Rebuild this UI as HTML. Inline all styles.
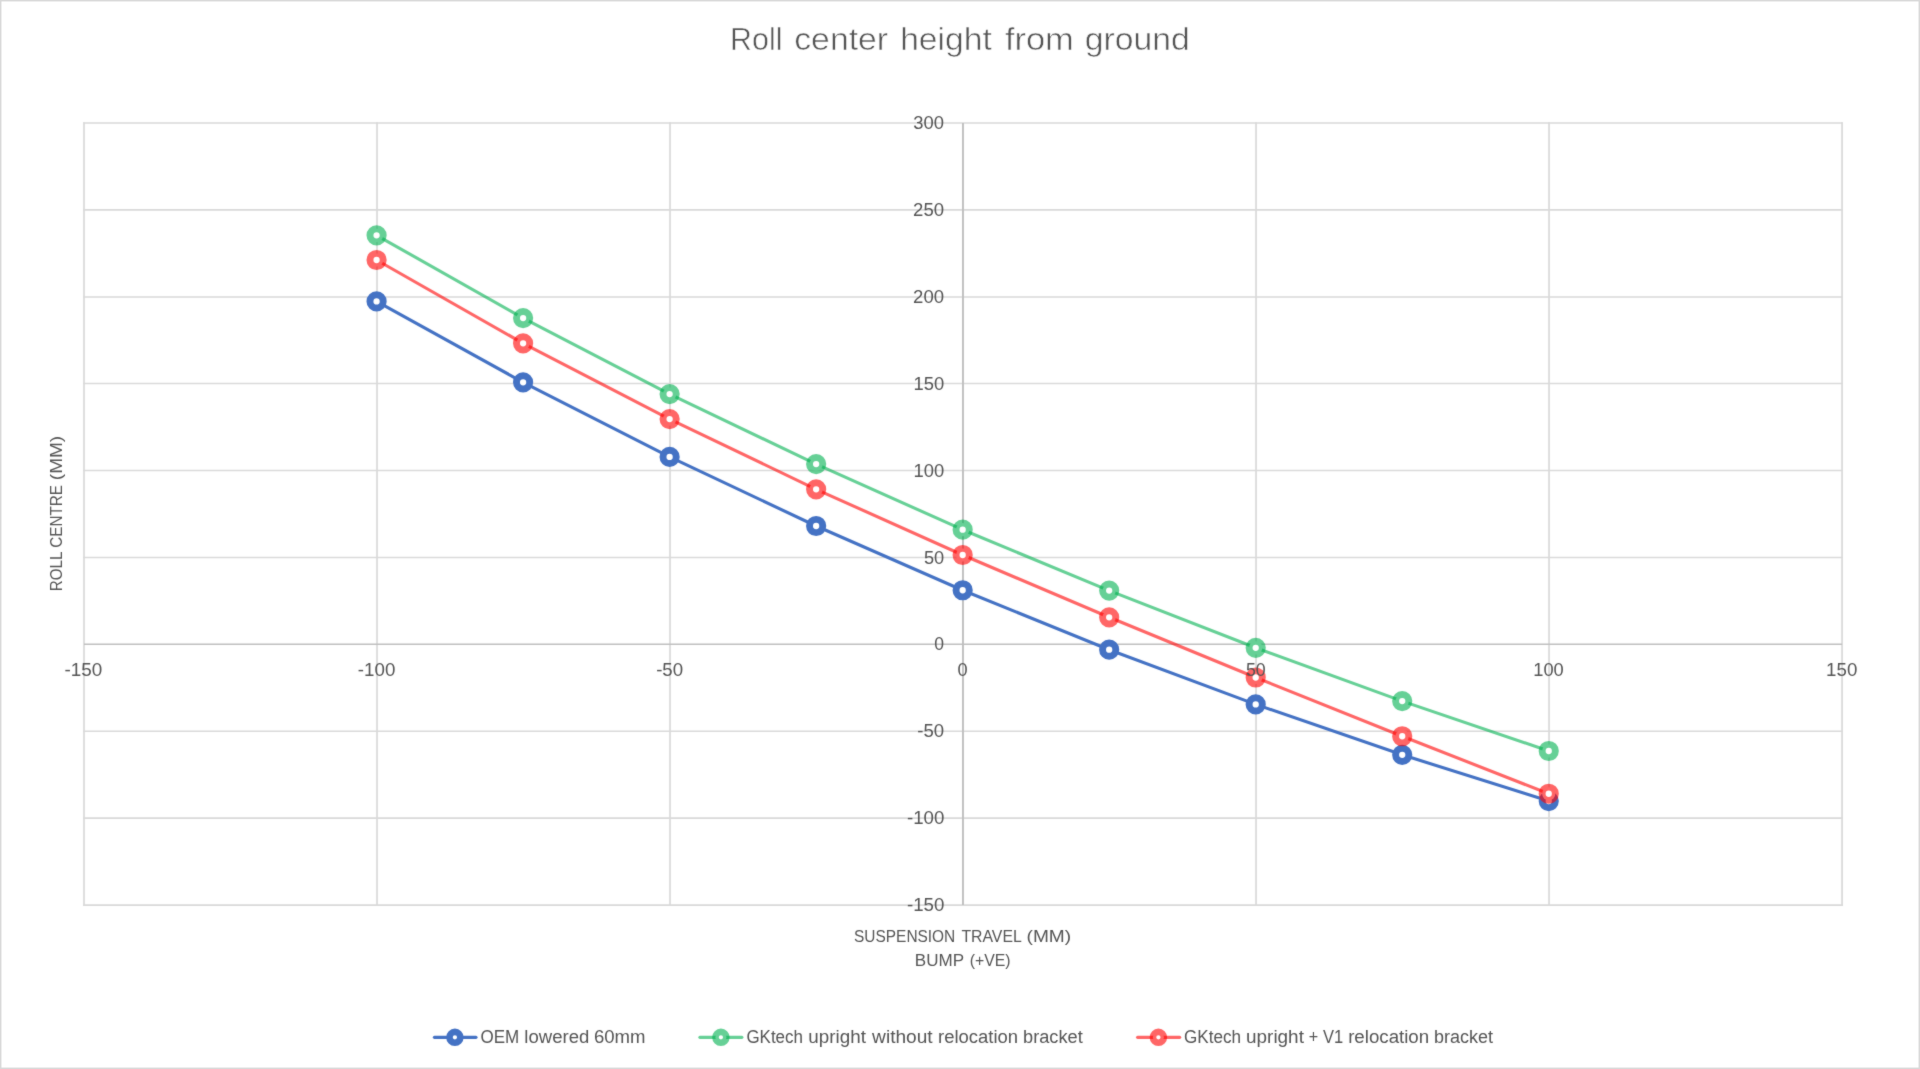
<!DOCTYPE html>
<html lang="en">
<head>
<meta charset="utf-8">
<title>Roll center height from ground</title>
<style>
html,body{margin:0;padding:0;background:#fff;}
body{width:1920px;height:1069px;overflow:hidden;}
svg{display:block;}
.grid line{stroke:#d9d9d9;stroke-width:1.70;}
.axis line{stroke:#bfbfbf;}
.s-blue{stroke:#4472C4;}
.s-green{stroke:#00B050;stroke-opacity:.6;}
.s-red{stroke:#FF0000;stroke-opacity:.6;}
.ln{fill:none;stroke-width:3.1;stroke-linecap:round;stroke-linejoin:round;}
.mk{fill:#fff;stroke-width:6.95;}
.lmk{fill:#fff;stroke-width:6.6;}
text{font-family:"Liberation Sans",sans-serif;fill:#545454;}
.title{font-size:31.20px;stroke:#fff;stroke-width:0.55px;stroke-linejoin:round;}
.tick{font-size:18.00px;}
.atitle{font-size:17.30px;}
.leg{font-size:18.00px;}
</style>
</head>
<body>
<svg width="1920" height="1069" viewBox="0 0 1920 1069" role="img" aria-label="Roll center height from ground">
<rect x="0" y="0" width="1920" height="1069" fill="#ffffff"/>
<rect x="0" y="0" width="1920" height="1069" fill="none" stroke="#d9d9d9" stroke-width="2.9"/>
<defs><filter id="soft" x="0" y="0" width="1920" height="1069" filterUnits="userSpaceOnUse" color-interpolation-filters="sRGB"><feConvolveMatrix order="3" kernelMatrix="0.0200 0.0750 0.0200 0.0750 0.6200 0.0750 0.0200 0.0750 0.0200" edgeMode="duplicate" preserveAlpha="false"/></filter></defs>
<g filter="url(#soft)">
<rect x="3" y="3" width="1914" height="1063" fill="#ffffff"/>
<g class="grid">
<line x1="84.00" y1="122.15" x2="84.00" y2="905.90"/>
<line x1="377.01" y1="122.15" x2="377.01" y2="905.90"/>
<line x1="670.02" y1="122.15" x2="670.02" y2="905.90"/>
<line x1="1256.03" y1="122.15" x2="1256.03" y2="905.90"/>
<line x1="1549.04" y1="122.15" x2="1549.04" y2="905.90"/>
<line x1="1842.05" y1="122.15" x2="1842.05" y2="905.90"/>
<line x1="83.15" y1="123.00" x2="1842.90" y2="123.00"/>
<line x1="83.15" y1="209.80" x2="1842.90" y2="209.80"/>
<line x1="83.15" y1="297.00" x2="1842.90" y2="297.00"/>
<line x1="83.15" y1="383.50" x2="1842.90" y2="383.50"/>
<line x1="83.15" y1="470.50" x2="1842.90" y2="470.50"/>
<line x1="83.15" y1="557.50" x2="1842.90" y2="557.50"/>
<line x1="83.15" y1="731.25" x2="1842.90" y2="731.25"/>
<line x1="83.15" y1="818.15" x2="1842.90" y2="818.15"/>
<line x1="83.15" y1="905.05" x2="1842.90" y2="905.05"/>
</g>
<g class="axis">
<line x1="84.00" y1="644.25" x2="1842.05" y2="644.25" stroke-width="1.3"/>
<line x1="962.98" y1="123.00" x2="962.98" y2="905.05" stroke-width="1.9"/>
</g>
<g class="s-blue">
<polyline class="ln" points="376.58,301.40 523.10,382.30 669.62,456.90 816.14,526.00 962.66,590.25 1109.18,649.70 1255.70,704.40 1402.22,754.80 1548.74,801.10"/>
<circle class="mk" cx="376.58" cy="301.40" r="6.62"/>
<circle class="mk" cx="523.10" cy="382.30" r="6.62"/>
<circle class="mk" cx="669.62" cy="456.90" r="6.62"/>
<circle class="mk" cx="816.14" cy="526.00" r="6.62"/>
<circle class="mk" cx="962.66" cy="590.25" r="6.62"/>
<circle class="mk" cx="1109.18" cy="649.70" r="6.62"/>
<circle class="mk" cx="1255.70" cy="704.40" r="6.62"/>
<circle class="mk" cx="1402.22" cy="754.80" r="6.62"/>
<circle class="mk" cx="1548.74" cy="801.10" r="6.62"/>
</g>
<g class="s-green">
<polyline class="ln" points="376.58,235.30 523.10,318.10 669.62,394.10 816.14,464.10 962.66,529.70 1109.18,590.60 1255.70,647.80 1402.22,701.10 1548.74,751.00"/>
<circle class="mk" cx="376.58" cy="235.30" r="6.62"/>
<circle class="mk" cx="523.10" cy="318.10" r="6.62"/>
<circle class="mk" cx="669.62" cy="394.10" r="6.62"/>
<circle class="mk" cx="816.14" cy="464.10" r="6.62"/>
<circle class="mk" cx="962.66" cy="529.70" r="6.62"/>
<circle class="mk" cx="1109.18" cy="590.60" r="6.62"/>
<circle class="mk" cx="1255.70" cy="647.80" r="6.62"/>
<circle class="mk" cx="1402.22" cy="701.10" r="6.62"/>
<circle class="mk" cx="1548.74" cy="751.00" r="6.62"/>
</g>
<g class="s-red">
<polyline class="ln" points="376.58,260.00 523.10,343.30 669.62,419.10 816.14,489.30 962.66,555.00 1109.18,617.30 1255.70,677.50 1402.22,736.25 1548.74,793.75"/>
<circle class="mk" cx="376.58" cy="260.00" r="6.62"/>
<circle class="mk" cx="523.10" cy="343.30" r="6.62"/>
<circle class="mk" cx="669.62" cy="419.10" r="6.62"/>
<circle class="mk" cx="816.14" cy="489.30" r="6.62"/>
<circle class="mk" cx="962.66" cy="555.00" r="6.62"/>
<circle class="mk" cx="1109.18" cy="617.30" r="6.62"/>
<circle class="mk" cx="1255.70" cy="677.50" r="6.62"/>
<circle class="mk" cx="1402.22" cy="736.25" r="6.62"/>
<circle class="mk" cx="1548.74" cy="793.75" r="6.62"/>
</g>
<g class="s-blue">
<line class="ln" x1="434.40" y1="1037.35" x2="476.00" y2="1037.35"/>
<circle class="lmk" cx="454.90" cy="1037.35" r="5.45"/>
</g>
<g class="s-green">
<line class="ln" x1="699.90" y1="1037.35" x2="741.90" y2="1037.35"/>
<circle class="lmk" cx="720.90" cy="1037.35" r="5.45"/>
</g>
<g class="s-red">
<line class="ln" x1="1137.60" y1="1037.35" x2="1179.70" y2="1037.35"/>
<circle class="lmk" cx="1158.40" cy="1037.35" r="5.45"/>
</g>
<text class="title" xml:space="preserve"><tspan x="730.05" y="50.40" textLength="52.44" lengthAdjust="spacingAndGlyphs">Roll</tspan> <tspan x="794.25" y="50.40" textLength="93.81" lengthAdjust="spacingAndGlyphs">center</tspan> <tspan x="900.15" y="50.40" textLength="91.68" lengthAdjust="spacingAndGlyphs">height</tspan> <tspan x="1004.95" y="50.40" textLength="68.87" lengthAdjust="spacingAndGlyphs">from</tspan> <tspan x="1084.75" y="50.40" textLength="105.10" lengthAdjust="spacingAndGlyphs">ground</tspan></text>
<text class="tick" xml:space="preserve"><tspan x="913.35" y="129.10" textLength="30.68" lengthAdjust="spacingAndGlyphs">300</tspan></text>
<text class="tick" xml:space="preserve"><tspan x="913.10" y="215.99" textLength="30.95" lengthAdjust="spacingAndGlyphs">250</tspan></text>
<text class="tick" xml:space="preserve"><tspan x="913.10" y="302.89" textLength="30.95" lengthAdjust="spacingAndGlyphs">200</tspan></text>
<text class="tick" xml:space="preserve"><tspan x="913.50" y="389.78" textLength="30.70" lengthAdjust="spacingAndGlyphs">150</tspan></text>
<text class="tick" xml:space="preserve"><tspan x="913.50" y="476.68" textLength="30.70" lengthAdjust="spacingAndGlyphs">100</tspan></text>
<text class="tick" xml:space="preserve"><tspan x="923.95" y="563.57" textLength="20.26" lengthAdjust="spacingAndGlyphs">50</tspan></text>
<text class="tick" xml:space="preserve"><tspan x="934.25" y="650.47" textLength="9.75" lengthAdjust="spacingAndGlyphs">0</tspan></text>
<text class="tick" xml:space="preserve"><tspan x="917.35" y="737.36" textLength="26.83" lengthAdjust="spacingAndGlyphs">-50</tspan></text>
<text class="tick" xml:space="preserve"><tspan x="906.95" y="824.26" textLength="37.38" lengthAdjust="spacingAndGlyphs">-100</tspan></text>
<text class="tick" xml:space="preserve"><tspan x="906.95" y="911.15" textLength="37.38" lengthAdjust="spacingAndGlyphs">-150</tspan></text>
<text class="tick" xml:space="preserve"><tspan x="64.40" y="675.90" textLength="37.77" lengthAdjust="spacingAndGlyphs">-150</tspan></text>
<text class="tick" xml:space="preserve"><tspan x="357.85" y="675.90" textLength="37.48" lengthAdjust="spacingAndGlyphs">-100</tspan></text>
<text class="tick" xml:space="preserve"><tspan x="656.15" y="675.90" textLength="26.99" lengthAdjust="spacingAndGlyphs">-50</tspan></text>
<text class="tick" xml:space="preserve"><tspan x="957.45" y="675.90" textLength="10.11" lengthAdjust="spacingAndGlyphs">0</tspan></text>
<text class="tick" xml:space="preserve"><tspan x="1245.90" y="675.90" textLength="19.80" lengthAdjust="spacingAndGlyphs">50</tspan></text>
<text class="tick" xml:space="preserve"><tspan x="1533.30" y="675.90" textLength="30.49" lengthAdjust="spacingAndGlyphs">100</tspan></text>
<text class="tick" xml:space="preserve"><tspan x="1826.10" y="675.90" textLength="31.20" lengthAdjust="spacingAndGlyphs">150</tspan></text>
<text class="atitle" xml:space="preserve"><tspan x="854.05" y="942.00" textLength="101.23" lengthAdjust="spacingAndGlyphs">SUSPENSION</tspan> <tspan x="961.40" y="942.00" textLength="59.75" lengthAdjust="spacingAndGlyphs">TRAVEL</tspan> <tspan x="1026.55" y="942.00" textLength="44.60" lengthAdjust="spacingAndGlyphs">(MM)</tspan></text>
<text class="atitle" xml:space="preserve"><tspan x="914.80" y="966.15" textLength="48.93" lengthAdjust="spacingAndGlyphs">BUMP</tspan> <tspan x="969.70" y="966.15" textLength="40.91" lengthAdjust="spacingAndGlyphs">(+VE)</tspan></text>
<text class="atitle" transform="translate(62.35 590.30) rotate(-90)" xml:space="preserve"><tspan x="-0.85" y="0.00" textLength="38.95" lengthAdjust="spacingAndGlyphs">ROLL</tspan> <tspan x="42.55" y="0.00" textLength="62.66" lengthAdjust="spacingAndGlyphs">CENTRE</tspan> <tspan x="110.15" y="0.00" textLength="44.24" lengthAdjust="spacingAndGlyphs">(MM)</tspan></text>
<text class="leg" xml:space="preserve"><tspan x="480.45" y="1043.00" textLength="38.78" lengthAdjust="spacingAndGlyphs">OEM</tspan> <tspan x="524.35" y="1043.00" textLength="64.92" lengthAdjust="spacingAndGlyphs">lowered</tspan> <tspan x="593.90" y="1043.00" textLength="51.52" lengthAdjust="spacingAndGlyphs">60mm</tspan></text>
<text class="leg" xml:space="preserve"><tspan x="746.40" y="1043.00" textLength="56.59" lengthAdjust="spacingAndGlyphs">GKtech</tspan> <tspan x="808.35" y="1043.00" textLength="57.52" lengthAdjust="spacingAndGlyphs">upright</tspan> <tspan x="872.10" y="1043.00" textLength="60.55" lengthAdjust="spacingAndGlyphs">without</tspan> <tspan x="938.05" y="1043.00" textLength="80.05" lengthAdjust="spacingAndGlyphs">relocation</tspan> <tspan x="1023.05" y="1043.00" textLength="59.66" lengthAdjust="spacingAndGlyphs">bracket</tspan></text>
<text class="leg" xml:space="preserve"><tspan x="1184.05" y="1043.00" textLength="57.04" lengthAdjust="spacingAndGlyphs">GKtech</tspan> <tspan x="1246.05" y="1043.00" textLength="57.87" lengthAdjust="spacingAndGlyphs">upright</tspan> <tspan x="1308.75" y="1043.00" textLength="9.43" lengthAdjust="spacingAndGlyphs">+</tspan> <tspan x="1322.95" y="1043.00" textLength="20.21" lengthAdjust="spacingAndGlyphs">V1</tspan> <tspan x="1348.15" y="1043.00" textLength="81.01" lengthAdjust="spacingAndGlyphs">relocation</tspan> <tspan x="1433.95" y="1043.00" textLength="58.96" lengthAdjust="spacingAndGlyphs">bracket</tspan></text>
</g>
</svg>
</body>
</html>
